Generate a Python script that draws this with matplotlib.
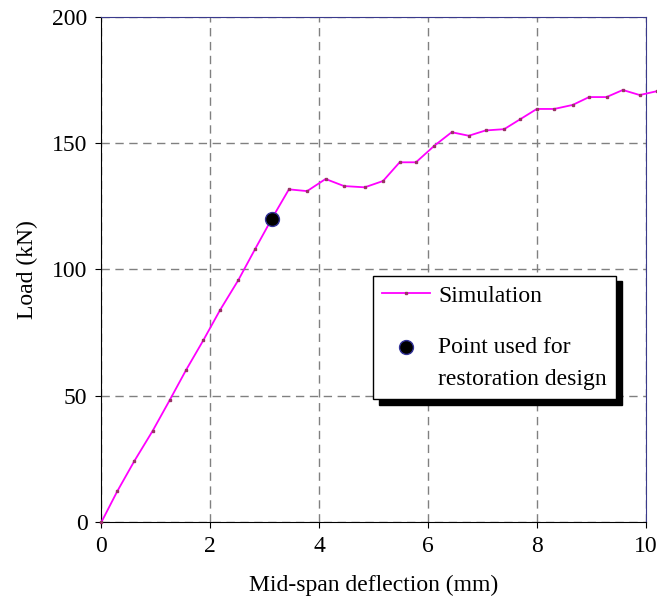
"""Load vs mid-span deflection: simulation curve and design point."""

import matplotlib
matplotlib.use("Agg")
import matplotlib.pyplot as plt
from matplotlib.legend_handler import HandlerLine2D

plt.rcParams["font.family"] = ["Liberation Serif", "DejaVu Serif"]

# Simulated load-deflection curve
deflection_mm = [0.0, 0.294, 0.606, 0.944, 1.256, 1.556, 1.874, 2.18, 2.517,
                 2.823, 3.13, 3.446, 3.78, 4.12, 4.458, 4.838, 5.175, 5.48,
                 5.78, 6.12, 6.436, 6.75, 7.06, 7.40, 7.70, 8.00, 8.32, 8.66,
                 8.96, 9.28, 9.58, 9.89, 10.2]
load_kn = [0.0, 12.3, 24.2, 36.2, 48.3, 60.2, 72.0, 83.9, 95.8, 108.0, 120.0,
           131.7, 131.0, 135.8, 133.0, 132.5, 135.0, 142.4, 142.4, 149.0,
           154.3, 152.9, 155.0, 155.5, 159.5, 163.5, 163.5, 165.1, 168.2,
           168.2, 171.0, 169.0, 170.5]

# Point used for restoration design
design_x = [3.13]
design_y = [120.0]

x_ticks = [0, 2, 4, 6, 8, 10]
y_ticks = [0, 50, 100, 150, 200]


class _FirstLineHandler(HandlerLine2D):
    """Put the legend marker beside the first line of a two-line label."""

    def create_artists(self, legend, orig_handle, xdescent, ydescent,
                       width, height, fontsize, trans):
        artists = super().create_artists(legend, orig_handle, xdescent,
                                         ydescent, width, height, fontsize,
                                         trans)
        for art in artists:
            art.set_ydata([y + 0.68 * fontsize for y in art.get_ydata()])
        return artists


fig = plt.figure(figsize=(6.57, 6.02), dpi=100)
ax = fig.add_axes([0.1542, 0.1324, 0.8286, 0.8399])

ax.plot(deflection_mm, load_kn, color="#ff00ff", lw=1.3, marker="s",
        ms=2.0, mfc="#993366", mec="#993366", clip_on=False,
        label="Simulation", zorder=3)
design_pt, = ax.plot(design_x, design_y, ls="none", marker="o", ms=10,
                     mfc="black", mec="#333399", mew=1.0,
                     label="Point used for\nrestoration design", zorder=4)

ax.set_xlim(0, 10)
ax.set_ylim(0, 200)
ax.set_xticks(x_ticks)
ax.set_yticks(y_ticks)
ax.tick_params(direction="out", length=4, labelsize=17, pad=6)
ax.grid(True, color="#808080", ls=(0, (6, 4)), lw=1.0)
ax.set_axisbelow(True)

for side in ("left", "bottom"):
    ax.spines[side].set_color("black")
for side in ("top", "right"):
    ax.spines[side].set_color("#3a3a8c")

ax.set_xlabel("Mid-span deflection (mm)", fontsize=17, labelpad=13)
ax.set_ylabel("Load (kN)", fontsize=17, labelpad=10)

leg = ax.legend(loc="upper left", bbox_to_anchor=(0.499, 0.488),
                fontsize=17, frameon=True, fancybox=False,
                shadow={"color": "black", "alpha": 1.0, "ox": 4, "oy": -4},
                borderpad=0.4, labelspacing=1.3, handlelength=2.0,
                handletextpad=0.35, borderaxespad=0.0,
                handler_map={design_pt: _FirstLineHandler(numpoints=1)})
leg.get_frame().set_edgecolor("black")
leg.get_frame().set_linewidth(1.0)
for txt in leg.get_texts():
    txt.set_linespacing(1.65)

fig.savefig("out.png", dpi=100)
